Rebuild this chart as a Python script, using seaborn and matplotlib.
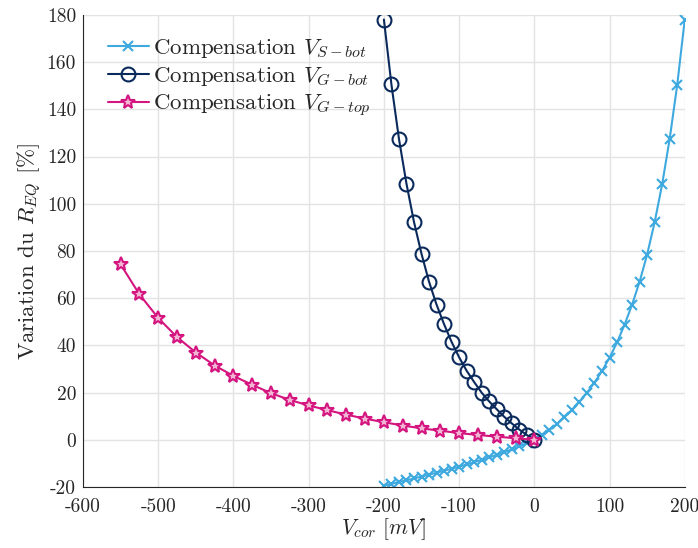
import numpy as np
import pandas as pd
import matplotlib
matplotlib.use("Agg")
import matplotlib.pyplot as plt
import seaborn as sns

# Compensation V_S-bot (step 10 mV)
vs_x = list(range(-200, 201, 10))
vs_y = [-19.3, -18.6, -17.8, -17.1, -16.3, -15.5, -14.7, -13.9, -13.0, -12.2,
        -11.3, -10.4, -9.4, -8.4, -7.4, -6.3, -5.2, -4.0, -2.7, -1.4,
        0.0, 2.0, 4.2, 6.7, 9.6, 12.7, 16.2, 20.0, 24.3, 29.2,
        34.8, 41.3, 48.8, 57.3, 67.0, 78.5, 92.2, 108.3, 127.5, 150.3, 178.0]

# Compensation V_G-bot (step 10 mV)
vg_x = list(range(-200, 1, 10))
vg_y = [178.0, 150.5, 127.5, 108.5, 92.3, 78.8, 67.0, 57.3, 49.0, 41.5,
        35.0, 29.3, 24.5, 20.0, 16.3, 13.0, 9.8, 7.0, 4.4, 2.1, 0.0]

# Compensation V_G-top (step 25 mV)
vt_x = list(range(-550, 1, 25))
vt_y = [74.3, 61.6, 51.6, 43.5, 37.0, 31.5, 27.1, 23.3, 19.8, 16.9,
        14.6, 12.6, 10.7, 9.0, 7.5, 6.1, 4.9, 3.9, 2.9, 2.1,
        1.4, 0.7, 0.0]

labels = [r"Compensation $V_{S-bot}$", r"Compensation $V_{G-bot}$",
          r"Compensation $V_{G-top}$"]
colors = ["#3DA9DE", "#0A2A5C", "#D4157F"]

sns.set_style("whitegrid")
plt.rcParams["font.family"] = "serif"
plt.rcParams["font.serif"] = ["cmr10", "DejaVu Serif"]
plt.rcParams["mathtext.fontset"] = "cm"
plt.rcParams["axes.unicode_minus"] = False
plt.rcParams["axes.formatter.use_mathtext"] = False

fig = plt.figure(figsize=(6.98, 5.48), dpi=100)
ax = fig.add_axes([0.119, 0.111, 0.862, 0.862])

sns.lineplot(x=vs_x, y=vs_y, ax=ax, color=colors[0], marker="x", markersize=7,
             markeredgecolor=colors[0], markeredgewidth=1.5, linewidth=1.5,
             sort=False, label=labels[0])
sns.lineplot(x=vg_x, y=vg_y, ax=ax, color=colors[1], marker="o", markersize=10,
             markerfacecolor="none", markeredgecolor=colors[1], markeredgewidth=1.5,
             linewidth=1.5, sort=False, label=labels[1])
sns.lineplot(x=vt_x, y=vt_y, ax=ax, color=colors[2], marker="*", markersize=10,
             markerfacecolor="#F3B5D4", markeredgecolor=colors[2], markeredgewidth=1.5,
             linewidth=1.5, sort=False, label=labels[2])

ax.set_xlim(-600, 200)
ax.set_ylim(-20, 180)
ax.set_xticks(range(-600, 201, 100))
ax.set_yticks(range(-20, 181, 20))
ax.grid(True, color="#E3E3E3", linewidth=1)
for s in ["top", "right"]:
    ax.spines[s].set_visible(False)
for s in ["left", "bottom"]:
    ax.spines[s].set_color("#262626")
    ax.spines[s].set_linewidth(0.8)
ax.tick_params(direction="in", length=5, width=1, color="#555555",
               labelsize=14, labelcolor="#262626")
ax.tick_params(axis="x", pad=8)
ax.tick_params(axis="y", pad=5)

ax.set_xlabel(r"$V_{cor}$ $[mV]$", fontsize=15.5, color="#262626", labelpad=0)
ax.set_ylabel(r"Variation du $R_{EQ}$ [%]", fontsize=16.5, color="#262626", labelpad=2)

leg = ax.legend(loc="upper left", frameon=False, fontsize=16.5,
                bbox_to_anchor=(0.018, 0.98), handlelength=1.8, handletextpad=0.2,
                borderaxespad=0.2, labelspacing=0.22)

fig.savefig("out.png", dpi=100)
